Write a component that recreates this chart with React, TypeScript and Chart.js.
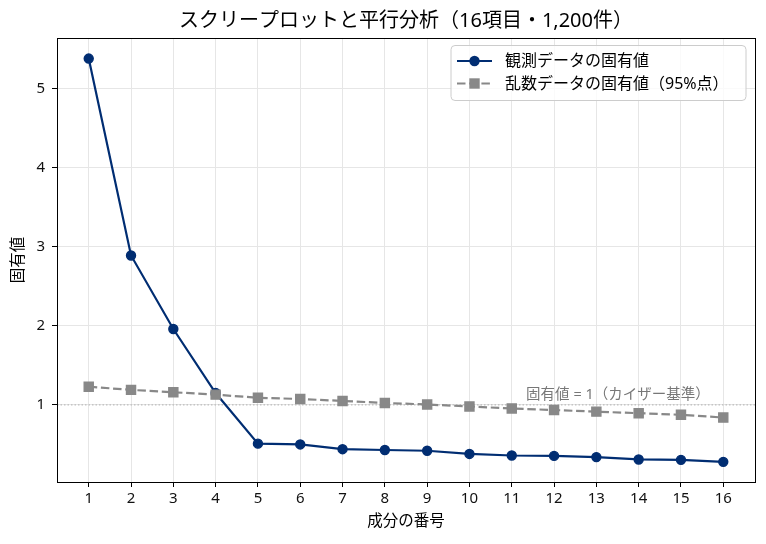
import { useEffect, useRef } from "react"
import { Chart, registerables } from "chart.js"

Chart.register(...registerables)

// 成分の番号
const components = [1, 2, 3, 4, 5, 6, 7, 8, 9, 10, 11, 12, 13, 14, 15, 16]
// 観測データの固有値
const observed = [5.38, 2.89, 1.96, 1.15, 0.51, 0.5, 0.44, 0.43, 0.42, 0.38, 0.36, 0.355, 0.34, 0.31, 0.305, 0.28]
// 乱数データの固有値（95%点）
const random95 = [1.23, 1.19, 1.16, 1.13, 1.09, 1.075, 1.05, 1.025, 1.005, 0.98, 0.955, 0.935, 0.915, 0.895, 0.875, 0.84]
const yTicks = [1, 2, 3, 4, 5]

const title = "スクリープロットと平行分析（16項目・1,200件）"
const xLabel = "成分の番号"
const yLabel = "固有値"
const obsLabel = "観測データの固有値"
const randLabel = "乱数データの固有値（95%点）"
const kaiserLabel = "固有値 = 1（カイザー基準）"

const FONT = "'Noto Sans', 'Noto Sans CJK JP', sans-serif"
const NAVY = "#002d72"
const GRAY = "#888888"

const decorPlugin = {
  id: "decor",
  beforeDatasetsDraw(chart: any) {
    const { ctx, chartArea: a, scales } = chart
    const y1 = scales.y.getPixelForValue(1)
    ctx.save()
    // カイザー基準の線
    ctx.strokeStyle = "#b0b0b0"
    ctx.lineWidth = 1
    ctx.setLineDash([1.5, 2])
    ctx.beginPath()
    ctx.moveTo(a.left, y1)
    ctx.lineTo(a.right, y1)
    ctx.stroke()
    ctx.setLineDash([])
    ctx.fillStyle = "#777777"
    ctx.font = `14.5px ${FONT}`
    ctx.textAlign = "right"
    ctx.textBaseline = "bottom"
    ctx.fillText(kaiserLabel, scales.x.getPixelForValue(15.68), y1 - 3)
    ctx.restore()
  },
  afterDraw(chart: any) {
    const { ctx, chartArea: a } = chart
    ctx.save()
    // 枠
    ctx.strokeStyle = "#000"
    ctx.lineWidth = 1
    ctx.strokeRect(a.left + 0.5, a.top + 0.5, a.right - a.left, a.bottom - a.top)

    ctx.fillStyle = "#000"
    ctx.textAlign = "center"
    ctx.textBaseline = "middle"
    ctx.font = `20px ${FONT}`
    ctx.fillText(title, (a.left + a.right) / 2, 21)
    ctx.font = `15.5px ${FONT}`
    ctx.fillText(xLabel, (a.left + a.right) / 2, 522)
    ctx.save()
    ctx.translate(19, (a.top + a.bottom) / 2)
    ctx.rotate(-Math.PI / 2)
    ctx.fillText(yLabel, 0, 0)
    ctx.restore()

    // 凡例
    const bx = 451, by = 45.5, bw = 295, bh = 55
    ctx.beginPath()
    ctx.roundRect(bx, by, bw, bh, 4)
    ctx.fillStyle = "rgba(255,255,255,0.8)"
    ctx.fill()
    ctx.strokeStyle = "#cccccc"
    ctx.stroke()

    const rows = [
      { y: 61, label: obsLabel, color: NAVY, dash: [] as number[], marker: "circle" },
      { y: 83.5, label: randLabel, color: GRAY, dash: [8.5, 3.7], marker: "rect" },
    ]
    rows.forEach((r) => {
      ctx.strokeStyle = r.color
      ctx.lineWidth = 2.2
      ctx.setLineDash(r.dash)
      ctx.beginPath()
      ctx.moveTo(457, r.y)
      ctx.lineTo(492, r.y)
      ctx.stroke()
      ctx.setLineDash([])
      ctx.fillStyle = r.color
      ctx.beginPath()
      if (r.marker === "circle") ctx.arc(474.5, r.y, 5.2, 0, Math.PI * 2)
      else ctx.rect(474.5 - 5.2, r.y - 5.2, 10.4, 10.4)
      ctx.fill()
      ctx.fillStyle = "#000"
      ctx.textAlign = "left"
      ctx.font = `16px ${FONT}`
      ctx.fillText(r.label, 505, r.y + 0.5)
    })
    ctx.restore()
  },
}

export default function App() {
  const chartRef = useRef<HTMLCanvasElement>(null)
  const chartInstance = useRef<Chart | null>(null)

  useEffect(() => {
    if (!chartRef.current) return
    if (chartInstance.current) chartInstance.current.destroy()

    const ctx = chartRef.current.getContext("2d")
    if (!ctx) return

    chartInstance.current = new Chart(ctx, {
      type: "line",
      data: {
        datasets: [
          {
            label: obsLabel,
            data: components.map((c, i) => ({ x: c, y: observed[i] })),
            borderColor: NAVY,
            backgroundColor: NAVY,
            borderWidth: 2.2,
            pointStyle: "circle",
            pointRadius: 4.5,
            pointBorderWidth: 1.4,
            pointBorderColor: NAVY,
            pointBackgroundColor: NAVY,
            tension: 0,
            order: 1,
          },
          {
            label: randLabel,
            data: components.map((c, i) => ({ x: c, y: random95[i] })),
            borderColor: GRAY,
            backgroundColor: GRAY,
            borderWidth: 2.2,
            borderDash: [8.5, 3.7],
            pointStyle: "rect",
            pointRadius: 6.4,
            pointBorderWidth: 1.4,
            pointBorderColor: GRAY,
            pointBackgroundColor: GRAY,
            tension: 0,
            order: 0,
          },
        ],
      },
      options: {
        responsive: false,
        animation: false,
        layout: { padding: { top: 38, right: 11, left: 0, bottom: 0 } },
        plugins: {
          legend: { display: false },
          title: { display: false },
          tooltip: { enabled: false },
        },
        scales: {
          x: {
            type: "linear",
            min: 0.25,
            max: 16.75,
            afterBuildTicks: (scale: any) => {
              scale.ticks = components.map((v) => ({ value: v }))
            },
            afterFit: (scale: any) => {
              scale.height = 62
            },
            grid: { color: "#e6e6e6", lineWidth: 1, tickColor: "#000", tickLength: 5, tickWidth: 1 },
            border: { display: false },
            ticks: { color: "#111", font: { family: FONT, size: 15 }, padding: 3, maxRotation: 0, autoSkip: false },
          },
          y: {
            type: "linear",
            min: 0.025,
            max: 5.64,
            afterBuildTicks: (scale: any) => {
              scale.ticks = yTicks.map((v) => ({ value: v }))
            },
            afterFit: (scale: any) => {
              scale.width = 57
            },
            grid: { color: "#e6e6e6", lineWidth: 1, tickColor: "#000", tickLength: 5, tickWidth: 1 },
            border: { display: false },
            ticks: { color: "#111", font: { family: FONT, size: 15 }, padding: 7 },
          },
        },
      },
      plugins: [decorPlugin],
    })

    return () => {
      if (chartInstance.current) {
        chartInstance.current.destroy()
        chartInstance.current = null
      }
    }
  }, [])

  return (
    <div style={{ width: 766, height: 544, background: "#fff" }}>
      <style>{"body{margin:0}"}</style>
      <canvas ref={chartRef} width={766} height={544} style={{ display: "block" }} />
    </div>
  )
}
